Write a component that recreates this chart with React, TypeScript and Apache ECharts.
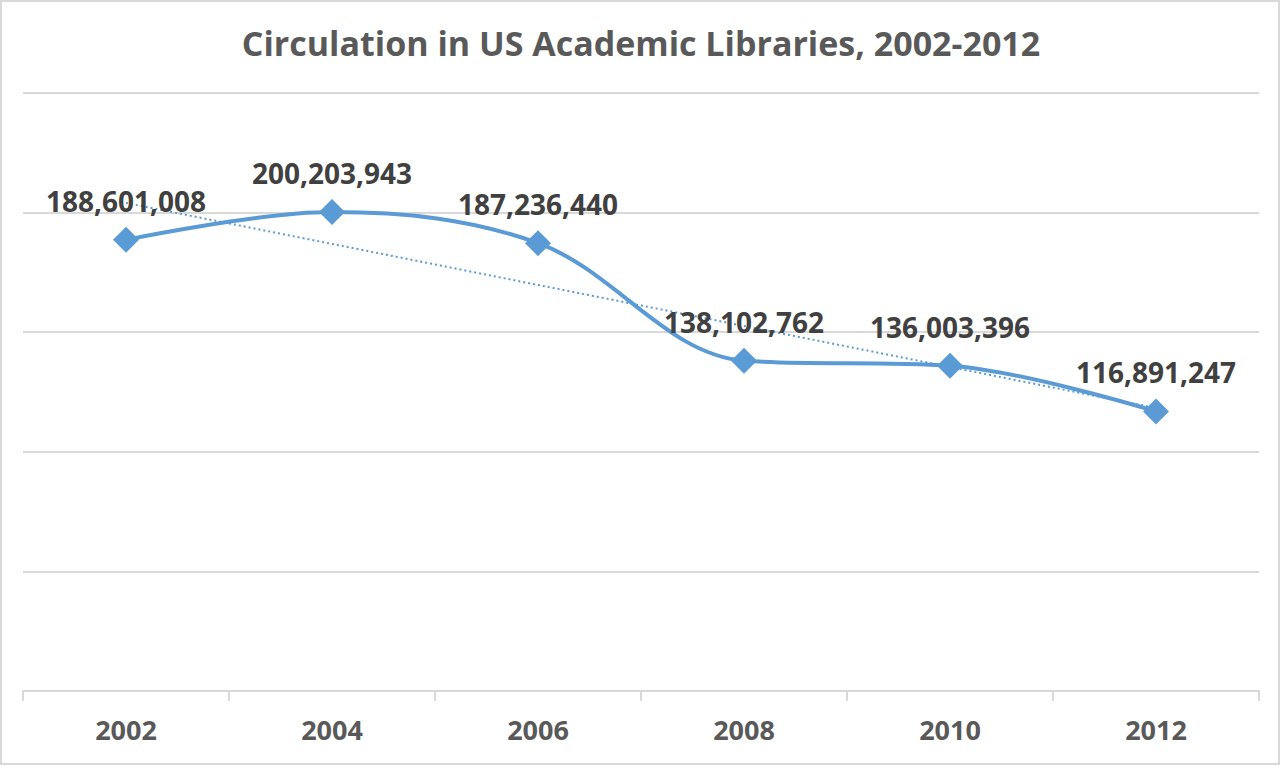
import React, { useEffect, useRef } from "react";
import * as echarts from "echarts";

const years = ["2002", "2004", "2006", "2008", "2010", "2012"];
const circulation = [188601008, 200203943, 187236440, 138102762, 136003396, 116891247];
const yMin = 0;
const yMax = 250000000;
const yInterval = 50000000;

const title = "Circulation in US Academic Libraries, 2002-2012";
const FONT = "'Open Sans', Lato, sans-serif";
const BLUE = "#5b9bd5";

function linearTrend(vals: number[]): number[] {
  const n = vals.length;
  const mx = (n - 1) / 2;
  const my = vals.reduce((a, b) => a + b, 0) / n;
  let sxy = 0, sxx = 0;
  vals.forEach((v, i) => { sxy += (i - mx) * (v - my); sxx += (i - mx) * (i - mx); });
  const slope = sxy / sxx;
  const b = my - slope * mx;
  return vals.map((_, i) => b + slope * i);
}

export default function App() {
  const ref = useRef<HTMLDivElement>(null);
  useEffect(() => {
    document.body.style.margin = "0";
    const chart = echarts.init(ref.current!, null, { renderer: "svg" });
    const trend = linearTrend(circulation);
    chart.setOption({
      animation: false,
      backgroundColor: "#ffffff",
      title: {
        text: title,
        left: "center",
        top: 21,
        textStyle: { fontFamily: FONT, fontSize: 34, fontWeight: "bold", color: "#595959" },
      },
      graphic: [
        {
          type: "rect",
          shape: { x: 1, y: 1, width: 1278, height: 763 },
          style: { fill: "none", stroke: "#d9d9d9", lineWidth: 2 },
          silent: true,
        },
      ],
      grid: { left: 23, right: 23, top: 93, bottom: 75 },
      xAxis: {
        type: "category",
        data: years,
        boundaryGap: true,
        axisLine: { lineStyle: { color: "#d9d9d9", width: 2 } },
        axisTick: { show: true, length: 10, lineStyle: { color: "#d9d9d9", width: 2 } },
        axisLabel: { fontFamily: FONT, fontSize: 27, fontWeight: "bold", color: "#595959", margin: 25 },
      },
      yAxis: {
        type: "value",
        min: yMin,
        max: yMax,
        interval: yInterval,
        axisLabel: { show: false },
        axisLine: { show: false },
        axisTick: { show: false },
        splitLine: { lineStyle: { color: "#d9d9d9", width: 2 } },
      },
      series: [
        {
          type: "line",
          data: trend,
          symbol: "none",
          lineStyle: { color: BLUE, width: 2, type: [2, 3] },
          z: 1,
          silent: true,
        },
        {
          type: "line",
          data: circulation,
          smooth: 0.35,
          symbol: "diamond",
          symbolSize: 26,
          itemStyle: { color: BLUE },
          lineStyle: { color: BLUE, width: 4 },
          z: 2,
          label: {
            show: true,
            position: "top",
            distance: 12,
            fontFamily: FONT,
            fontSize: 28,
            fontWeight: "bold",
            color: "#404040",
            formatter: (p: any) => Number(p.value).toLocaleString("en-US"),
          },
        },
      ],
    });
    return () => chart.dispose();
  }, []);
  return <div ref={ref} style={{ width: 1282, height: 766 }} />;
}
